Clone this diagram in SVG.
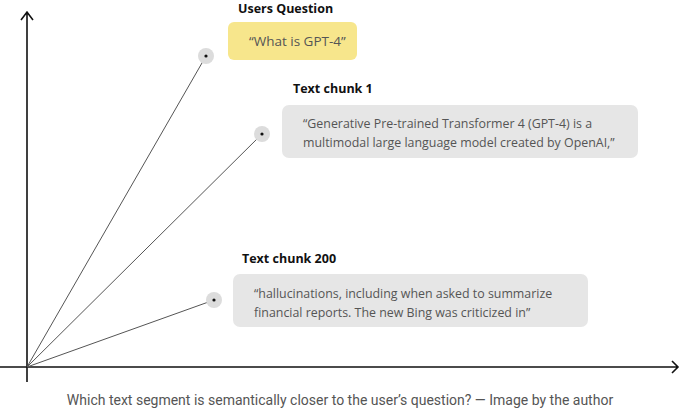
<svg xmlns="http://www.w3.org/2000/svg" width="680" height="412" viewBox="0 0 680 412">
<defs>
<style>
.lbl{font-family:"Open Sans","Noto Sans",sans-serif;font-weight:700;font-size:12.5px;fill:#111}
.txt{font-family:"Open Sans","Noto Sans",sans-serif;font-size:12.4px;fill:#555}
.q{font-size:13.5px}
.cap{font-family:"Roboto","Liberation Sans",sans-serif;font-size:14px;fill:#555}
.vec{stroke:#555;stroke-width:1;fill:none}
.axis{stroke:#111;stroke-width:1.6;fill:none}
.halo{fill:#dcdcdc}
.pt{fill:#111}
</style>
</defs>
<rect width="680" height="412" fill="#fff"/>
<g id="axes">
<path class="axis" d="M27 382 V12 M21 20 L27 12 L33 20"/>
<path class="axis" d="M0 367 H678 M672 361 L678 367 L672 373"/>
</g>
<g id="connectors">
<line class="vec" x1="27" y1="367" x2="206" y2="56"/>
<line class="vec" x1="27" y1="367" x2="262" y2="134"/>
<line class="vec" x1="27" y1="367" x2="214" y2="300"/>
</g>
<g id="question">
<circle class="halo" cx="206" cy="56" r="8"/>
<circle class="pt" cx="206" cy="56" r="1.6"/>
<text class="lbl" x="238" y="12.5">Users Question</text>
<rect x="228" y="22" width="129" height="38" rx="6" fill="#f7e68c"/>
<text class="txt q" x="249" y="46">“What is GPT-4”</text>
</g>
<g id="chunk1">
<circle class="halo" cx="262" cy="134" r="8"/>
<circle class="pt" cx="262" cy="134" r="1.6"/>
<text class="lbl" x="293" y="93">Text chunk 1</text>
<rect x="282" y="105" width="356" height="53" rx="7" fill="#e6e6e6"/>
<text class="txt" x="303" y="128">“Generative Pre-trained Transformer 4 (GPT-4) is a</text>
<text class="txt" x="303" y="147">multimodal large language model created by OpenAI,”</text>
</g>
<g id="chunk200">
<circle class="halo" cx="214" cy="300" r="8"/>
<circle class="pt" cx="214" cy="300" r="1.6"/>
<text class="lbl" x="242" y="263">Text chunk 200</text>
<rect x="233" y="274" width="355" height="53" rx="7" fill="#e6e6e6"/>
<text class="txt" x="254" y="298">“hallucinations, including when asked to summarize</text>
<text class="txt" x="254" y="317">financial reports. The new Bing was criticized in”</text>
</g>
<text class="cap" x="340" y="405" text-anchor="middle">Which text segment is semantically closer to the user’s question? — Image by the author</text>
</svg>
